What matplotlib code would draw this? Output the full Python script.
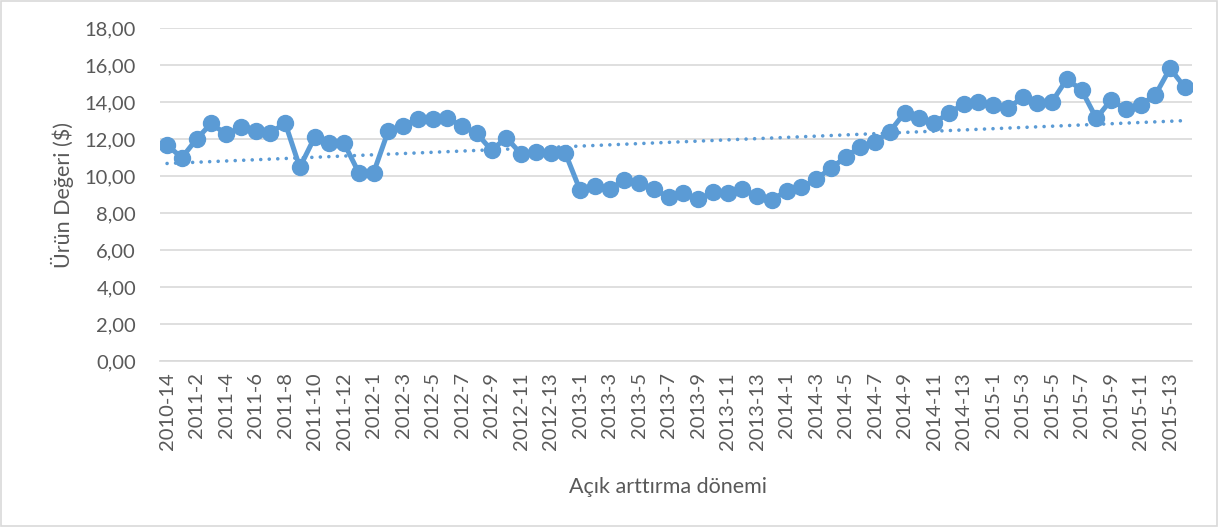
import numpy as np
import matplotlib
matplotlib.use("Agg")
import matplotlib.pyplot as plt
from matplotlib.ticker import MultipleLocator, FuncFormatter
from matplotlib.patches import Rectangle

# Dönemler (yıl-açık arttırma no)
periods = (["2010-14"]
           + [f"2011-{i}" for i in range(1, 14)]
           + [f"2012-{i}" for i in range(1, 15)]
           + [f"2013-{i}" for i in range(1, 15)]
           + [f"2014-{i}" for i in range(1, 15)]
           + [f"2015-{i}" for i in range(1, 15)])

# Ürün değeri ($)
values = [11.68, 10.99, 12.00, 12.85, 12.25, 12.63, 12.45, 12.31, 12.88, 10.47,
          12.09, 11.80, 11.77, 10.18, 10.18, 12.45, 12.72, 13.08, 13.08, 13.15,
          12.70, 12.31, 11.39, 12.08, 11.19, 11.32, 11.26, 11.24, 9.24, 9.46,
          9.28, 9.78, 9.64, 9.28, 8.88, 9.06, 8.74, 9.12, 9.06, 9.30,
          8.92, 8.70, 9.21, 9.39, 9.82, 10.43, 11.01, 11.59, 11.86, 12.40,
          13.42, 13.12, 12.88, 13.39, 13.89, 14.02, 13.84, 13.66, 14.25, 13.93,
          14.02, 15.24, 14.65, 13.12, 14.11, 13.60, 13.84, 14.38, 15.82, 14.79]

blue = "#5B9BD5"
grey = "#595959"

plt.rcParams["font.family"] = ["Lato", "DejaVu Sans"]

fig = plt.figure(figsize=(12.19, 5.28), dpi=100)
ax = fig.add_axes([0.131, 0.316, 0.847, 0.631])

x = np.arange(len(values))
ax.plot(x, values, color=blue, linewidth=3.6, marker="o", markersize=11.5,
        solid_joinstyle="round", zorder=3)

# lineer trend çizgisi
k, b = np.polyfit(x, values, 1)
ax.plot(x, k * x + b, color=blue, linewidth=2.6, linestyle=(0, (0.01, 2.35)),
        dash_capstyle="round", zorder=2)

ax.set_xlim(-0.5, len(values) - 0.5)
ax.set_ylim(0, 18)
ax.yaxis.set_major_locator(MultipleLocator(2))
ax.yaxis.set_major_formatter(FuncFormatter(lambda v, p: f"{v:.2f}".replace(".", ",")))
ax.set_xticks(x[::2])
ax.set_xticklabels(periods[::2], rotation=90)
ax.tick_params(axis="both", length=0, labelsize=14.5, colors=grey, pad=8)
ax.tick_params(axis="y", pad=17)

ax.grid(axis="y", color="#D9D9D9", linewidth=1.2)
ax.set_axisbelow(True)
for s in ["top", "right", "left"]:
    ax.spines[s].set_visible(False)
ax.spines["bottom"].set_color("#D9D9D9")
ax.spines["bottom"].set_linewidth(1.2)

ax.set_ylabel("Ürün Değeri (\\$)", fontsize=15.5, color=grey, labelpad=8)
fig.text(0.548, 0.077, "Açık arttırma dönemi", fontsize=15.5, color=grey,
         ha="center", va="center")

fig.patches.append(Rectangle((0.001, 0.003), 0.997, 0.995, transform=fig.transFigure,
                             fill=False, edgecolor="#D9D9D9", linewidth=1.2))

fig.savefig("out.png", dpi=100)
